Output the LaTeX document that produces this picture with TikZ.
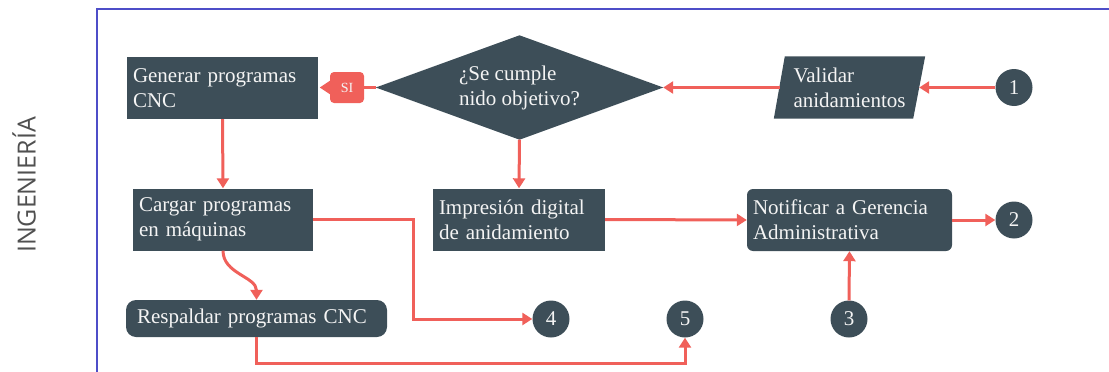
\documentclass[tikz,border=0pt]{standalone}
\usepackage{fontspec}
\setmainfont{Liberation Serif}
\newfontfamily\labfont{Open Sans}
\usetikzlibrary{arrows.meta,calc}
\definecolor{dk}{HTML}{3D4E58}
\definecolor{rd}{HTML}{F0605A}
\definecolor{fr}{HTML}{4E4EC8}
\definecolor{tx}{HTML}{F4F4F4}
\definecolor{lb}{HTML}{505050}
\begin{document}
\begin{tikzpicture}[x=1pt,y=-1pt,
  box/.style={fill=dk, text=tx, font=\fontsize{21}{25}\selectfont, align=left,
    inner xsep=6pt, inner ysep=0pt, minimum height=62pt},
  circ/.style={circle, fill=dk, text=tx, minimum size=37pt, inner sep=0pt,
    font=\fontsize{21}{21}\selectfont},
  ln/.style={draw=rd, line width=3pt},
  arr/.style={ln, -{Triangle[length=10pt,width=12pt]}}]
\useasboundingbox (0,0) rectangle (1109,372);
% frame
\draw[fr, line width=2.5pt] (97,372) -- (97,9) -- (1110,9);
\node[rotate=90, text=lb, font=\labfont\fontsize{25}{25}\selectfont] (lane) at (24,185) {INGENIERÍA};
% nodes
\node[box, text width=179pt] (gen) at (222.5,88) {Generar programas\\CNC};
\node[box, text width=168pt] (cargar) at (223,219.5) {Cargar programas\\en máquinas};
\node[box, text width=160pt] (imp) at (519,219.5) {Impresión digital\\de anidamiento};
\node[box, text width=193pt, rounded corners=6pt] (not) at (849.5,220) {Notificar a Gerencia\\Administrativa};
\node[box, text width=239pt, inner xsep=11pt, minimum height=37pt, rounded corners=10pt] (resp) at (256.5,318.5) {Respaldar programas CNC};
% decision
\node[minimum width=287pt, minimum height=104pt, inner sep=0pt] (dec) at (519.5,87.5) {};
\fill[dk] (dec.west) -- (dec.north) -- (dec.east) -- (dec.south) -- cycle;
\node[text=tx, font=\fontsize{21}{25}\selectfont, align=left] (dect) at (dec.center) {¿Se cumple\\nido objetivo?};
% parallelogram
\node[minimum width=139pt, minimum height=62pt, inner sep=0pt] (val) at (849.5,87.5) {};
\fill[dk] ($(val.south west)+(-6,0)$) -- ($(val.north west)+(5,0)$) -- ($(val.north east)+(6,0)$) -- ($(val.south east)+(-6,0)$) -- cycle;
\node[text=tx, font=\fontsize{21}{25}\selectfont, align=left] (valt) at (val.center) {Validar\\anidamientos};
% SI tag
\node[fill=rd, text=tx, rounded corners=4pt, minimum width=34pt, minimum height=31pt, inner sep=0pt,
  font=\fontsize{14}{14}\selectfont] (si) at (347,87.5) {SI};
\fill[rd] ($(si.west)+(0.5,-7)$) -- ($(si.west)+(-10,0)$) -- ($(si.west)+(0.5,7)$) -- cycle;
% circles
\node[circ] (c1) at (1014,87.5) {1};
\node[circ] (c2) at (1014,220) {2};
\node[circ] (c3) at (849,319) {3};
\node[circ] (c4) at (551,319) {4};
\node[circ] (c5) at (685,319) {5};
\coordinate (t4) at (413,319);
\coordinate (b5) at (685,363);
% connectors
\draw[arr] (c1.west) -- (val.east);
\draw[arr] (val.west) -- (dec.east);
\draw[ln] (dec.west) -- (si.east);
\draw[arr] (gen.south) -- (cargar.north);
\draw[arr] (dec.south) -- (imp.north);
\draw[arr] (imp.east) -- (not.west);
\draw[arr] (not.east) -- (c2.west);
\draw[arr] (c3.north) -- (not.south);
\draw[arr] (cargar.east) -| (t4) -- (c4.west);
\draw[arr] (cargar.south) to[out=-90,in=90] (resp.north);
\draw[arr] (resp.south) |- (b5) -- (c5.south);
\end{tikzpicture}
\end{document}
